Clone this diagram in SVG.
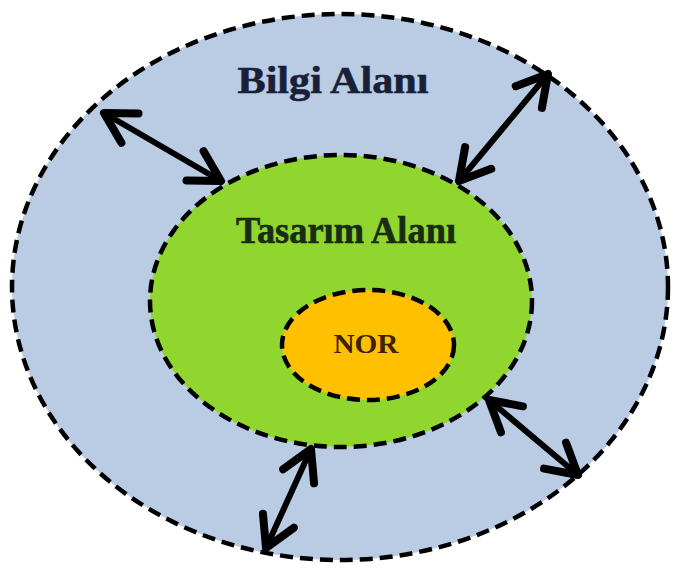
<svg xmlns="http://www.w3.org/2000/svg" width="674" height="569" viewBox="0 0 674 569">
  <style>
    .zone { stroke: #000; stroke-width: 4.5; stroke-dasharray: 13 7; }
    .label { font-family: "Liberation Serif", "Times New Roman", serif; font-weight: bold; text-anchor: middle; }
    .link { stroke: #000; stroke-width: 6; stroke-linecap: round; fill: none; marker-start: url(#chev); marker-end: url(#chev); }
  </style>
  <defs>
    <marker id="chev" markerUnits="userSpaceOnUse" viewBox="-40 -25 50 50" markerWidth="50" markerHeight="50" refX="0" refY="0" orient="auto-start-reverse" overflow="visible">
      <path d="M-30,-17 L0,0 L-30,17" fill="none" stroke="#000" stroke-width="8" stroke-linecap="round" stroke-linejoin="round"/>
    </marker>
  </defs>
  <rect width="674" height="569" fill="#fff"/>

  <g id="bilgi-alani">
    <ellipse class="zone" cx="340" cy="287" rx="328" ry="273" fill="#b9cce4"/>
    <text class="label" x="333" y="93" font-size="37" fill="#1a1f38" stroke="#1a1f38" stroke-width="0.6" textLength="191" lengthAdjust="spacingAndGlyphs">Bilgi Alanı</text>
  </g>

  <g id="tasarim-alani">
    <ellipse class="zone" cx="341" cy="301" rx="191" ry="146" fill="#90d62e"/>
    <text class="label" x="346" y="243" font-size="37" fill="#182c14" stroke="#182c14" stroke-width="0.6" textLength="220" lengthAdjust="spacingAndGlyphs">Tasarım Alanı</text>
  </g>

  <g id="nor">
    <ellipse class="zone" cx="368" cy="345" rx="86" ry="55" fill="#ffc000"/>
    <text class="label" x="366" y="353" font-size="28" fill="#3b2200" textLength="65" lengthAdjust="spacingAndGlyphs">NOR</text>
  </g>

  <g id="connectors">
    <line class="link" x1="104" y1="113" x2="221" y2="181"/>
    <line class="link" x1="548" y1="74" x2="459" y2="181"/>
    <line class="link" x1="489" y1="400" x2="578" y2="475"/>
    <line class="link" x1="311" y1="449" x2="266" y2="548"/>
  </g>
</svg>
